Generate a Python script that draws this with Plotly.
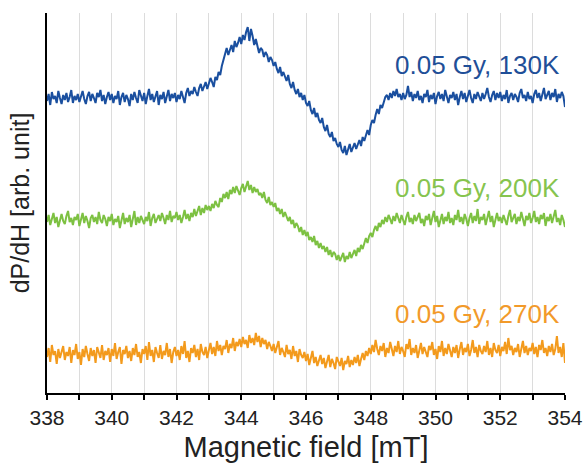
import plotly.graph_objects as go

# Magnetic field axis (mT), 0.05 mT steps from 338 to 354
field_start = 338.0
field_step = 0.05

# dP/dH traces (arb. unit, offset-stacked as in the figure)
signal_130K = [
    292, 299, 288, 301, 294, 297, 290, 302, 295, 289,
    298, 293, 300, 291, 296, 303, 290, 297, 293, 299,
    291, 298, 302, 294, 289, 297, 301, 292, 299, 295,
    290, 300, 296, 303, 292, 298, 289, 296, 301, 293,
    299, 290, 297, 294, 302, 288, 296, 300, 291, 298,
    294, 287, 299, 293, 301, 295, 290, 303, 296, 292,
    300, 289, 297, 304, 293, 299, 291, 296, 302, 288,
    298, 294, 301, 290, 297, 303, 292, 299, 295, 300,
    291, 298, 294, 302, 296, 290, 300, 305, 297, 302,
    299, 306, 301, 297, 305, 309, 302, 307, 311, 304,
    309, 315, 311, 306, 316, 313, 321, 318, 327, 334,
    339, 345, 338, 343, 348, 341, 352, 346, 350, 356,
    349, 358, 353, 361, 366, 352, 364, 357, 348, 354,
    347, 340, 345, 343, 336, 341, 338, 331, 336, 333,
    327, 331, 324, 320, 326, 317, 321, 316, 312, 318,
    309, 305, 311, 303, 299, 304, 296, 300, 293, 298,
    290, 287, 292, 283, 279, 285, 276, 280, 273, 270,
    275, 266, 262, 268, 259, 256, 261, 252, 255, 249,
    246, 251, 243, 240, 247, 238, 244, 249, 241, 246,
    250, 244, 248, 253, 247, 256, 252, 259, 263, 258,
    268, 273, 270, 278, 284, 279, 288, 285, 292, 296,
    298, 293, 300, 295, 302, 297, 304, 296, 299, 293,
    300, 294, 298, 307, 296, 301, 292, 299, 295, 302,
    293, 297, 290, 299, 296, 303, 291, 298, 294, 300,
    289, 297, 301, 294, 299, 292, 303, 296, 290, 298,
    295, 301, 293, 299, 288, 296, 302, 294, 300, 291,
    298, 303, 295, 290, 299, 294, 301, 297, 292, 300,
    294, 299, 305, 296, 291, 298, 302, 293, 300, 295,
    301, 292, 298, 294, 303, 290, 297, 300, 293, 299,
    296, 291, 300, 304, 295, 298, 292, 301, 294, 297,
    290, 299, 303, 295, 300, 292, 298, 305, 294, 299,
    302, 293, 300, 296, 304, 291, 299, 295, 301, 297,
    286,
]
signal_200K = [
    171, 178, 168, 175, 180, 170, 176, 166, 174, 179,
    172, 169, 177, 182, 171, 175, 168, 176, 173, 179,
    167, 174, 180, 170, 177, 172, 165, 175, 178, 171,
    176, 169, 181, 173, 170, 178, 174, 167, 176, 172,
    179, 168, 174, 171, 177, 165, 173, 180, 169, 175,
    171, 178, 166, 174, 182, 168, 176, 170, 177, 173,
    169, 176, 172, 181, 167, 175, 179, 170, 174, 178,
    172, 180, 175, 169, 178, 173, 182, 171, 177, 175,
    181, 173, 178, 170, 176, 183, 174, 179, 172, 180,
    176, 184, 177, 181, 187, 178, 185, 180, 188, 183,
    187, 182, 189, 185, 192, 188, 186, 195, 191, 199,
    195, 201, 194, 203, 199, 206, 200, 207, 202, 198,
    205, 209, 201, 207, 212, 203, 208, 200, 206, 201,
    204, 198, 200, 195, 201, 193, 190, 196, 188, 191,
    186, 190, 182, 185, 179, 184, 176, 181, 177, 172,
    176, 169, 173, 165, 170, 167, 161, 166, 158, 163,
    157, 161, 153, 156, 151, 157, 148, 152, 145, 150,
    144, 147, 141, 146, 138, 143, 136, 141, 139, 133,
    138, 132, 136, 140, 131, 137, 134, 141, 135, 139,
    143, 137, 145, 141, 148, 144, 151, 155, 150, 157,
    160, 156, 163, 167, 162, 170, 166, 173, 169, 176,
    171, 178, 174, 169, 177, 172, 180, 175, 170, 178,
    173, 168, 176, 181, 171, 175, 169, 178, 172, 176,
    180, 170, 174, 167, 177, 173, 179, 168, 175, 182,
    171, 177, 166, 174, 179, 169, 176, 172, 181, 170,
    175, 168, 178, 173, 183, 171, 176, 169, 179, 174,
    167, 175, 180, 170, 177, 172, 184, 169, 176, 173,
    179, 168, 174, 182, 171, 177, 166, 175, 180, 172,
    176, 170, 178, 173, 168, 177, 183, 171, 175, 179,
    169, 176, 172, 181, 174, 167, 177, 173, 180, 170,
    175, 182, 171, 176, 169, 178, 174, 180, 167, 176,
    172, 179, 170, 177, 183, 171, 175, 168, 178, 173,
    166,
]
signal_270K = [
    36, 45, 31, 48, 38, 42, 29, 44, 35, 40,
    47, 33, 41, 37, 46, 30, 43, 38, 49, 34,
    41, 28, 44, 36, 47, 39, 32, 45, 37, 43,
    30, 46, 40, 35, 48, 33, 42, 38, 45, 31,
    44, 37, 50, 34, 41, 46, 29, 43, 39, 47,
    35, 42, 32, 45, 38, 49, 36, 41, 30, 44,
    39, 47, 33, 51, 37, 43, 31, 46, 40, 35,
    48, 34, 42, 38, 50, 36, 44, 30, 41, 46,
    37, 43, 33, 47, 39, 52, 35, 42, 31, 45,
    40, 48, 36, 44, 33, 49, 41, 38, 46, 35,
    43, 50, 39, 46, 37, 52, 42, 48, 38, 47,
    44, 53, 40, 49, 45, 55, 42, 51, 47, 54,
    46, 56, 49, 53, 45, 58, 50, 55, 48, 60,
    51, 57, 46, 55, 49, 53, 44, 51, 47, 42,
    49, 40, 46, 52, 38, 45, 41, 36, 48, 39,
    43, 34, 47, 37, 42, 31, 44, 38, 35, 41,
    32, 39, 28, 37, 42, 30, 36, 27, 34, 38,
    29, 35, 25, 33, 38, 26, 34, 30, 24, 36,
    31, 27, 35, 23, 32, 29, 37, 26, 33, 28,
    36, 30, 38, 27, 34, 40, 33, 42, 37, 45,
    39, 48, 41, 53, 44, 38, 47, 42, 50, 36,
    45, 40, 51, 43, 37, 47, 41, 52, 39, 46,
    42, 36, 49, 44, 54, 38, 45, 40, 48, 35,
    43, 50, 39, 46, 41, 36, 47, 43, 51, 38,
    44, 34, 47, 41, 52, 37, 45, 39, 49, 42,
    36, 46, 40, 48, 35, 44, 51, 38, 45, 41,
    49, 37, 43, 53, 40, 46, 36, 48, 42, 39,
    47, 41, 52, 38, 45, 36, 50, 43, 40, 48,
    37, 46, 42, 51, 39, 55, 43, 47, 38, 45,
    41, 49, 36, 44, 52, 40, 47, 38, 45, 42,
    50, 39, 46, 36, 48, 43, 53, 40, 45, 37,
    47, 41, 49, 38, 44, 57, 40, 46, 36, 50,
    30,
]

series_names = ["0.05 Gy, 130K", "0.05 Gy, 200K", "0.05 Gy, 270K"]
series_values = [signal_130K, signal_200K, signal_270K]
label_levels = [328, 205, 79]

x_tick_values = [338, 340, 342, 344, 346, 348, 350, 352, 354]
x_tick_labels = ["338", "340", "342", "344", "346", "348", "350", "352", "354"]

line_colors = ["#1a4f9f", "#7dc142", "#f39a1c"]
label_colors = ["#1f4f98", "#86c44e", "#f29a2a"]

field = [round(field_start + i * field_step, 3) for i in range(len(signal_130K))]

font_family = "Liberation Sans, Arial, sans-serif"

fig = go.Figure()
for name, vals, col in zip(series_names, series_values, line_colors):
    fig.add_trace(go.Scatter(x=field, y=vals, mode="lines", name=name,
                             line=dict(color=col, width=2)))

for name, lvl, col in zip(series_names, label_levels, label_colors):
    fig.add_annotation(x=353.9, y=lvl, xref="x", yref="y", text=name,
                       showarrow=False, xanchor="right", yanchor="middle",
                       font=dict(size=26, color=col, family=font_family))

fig.update_layout(
    width=583, height=463,
    margin=dict(l=47, r=18, t=13, b=70),
    paper_bgcolor="white", plot_bgcolor="white",
    showlegend=False,
    font=dict(family=font_family, color="#222222"),
    xaxis=dict(
        range=[338, 354], tickvals=x_tick_values, ticktext=x_tick_labels,
        ticks="outside", ticklen=5, tickwidth=1.5, tickcolor="black",
        showline=True, linecolor="black", linewidth=2,
        showgrid=True, gridcolor="#dcdcdc", gridwidth=1,
        minor=dict(dtick=1, tick0=339, ticks="outside", ticklen=5, tickwidth=1.5,
                   tickcolor="black", showgrid=True, gridcolor="#dcdcdc", gridwidth=1),
        tickfont=dict(size=21, color="#222222"),
        title=dict(text="Magnetic field [mT]", font=dict(size=29, color="#222222"), standoff=29),
        automargin=False,
        zeroline=False,
    ),
    yaxis=dict(
        range=[0, 380], tickvals=[380], ticks="inside", ticklen=10, tickwidth=2,
        tickcolor="black", showticklabels=False,
        showline=True, linecolor="black", linewidth=2,
        showgrid=False, zeroline=False,
        automargin=False,
        title=dict(text="dP/dH [arb. unit]", font=dict(size=25, color="#222222"), standoff=8),
    ),
)

fig.write_html("out.html",
               config={"displayModeBar": False},
               post_script="document.body.style.margin='0';document.body.style.overflow='hidden';")
